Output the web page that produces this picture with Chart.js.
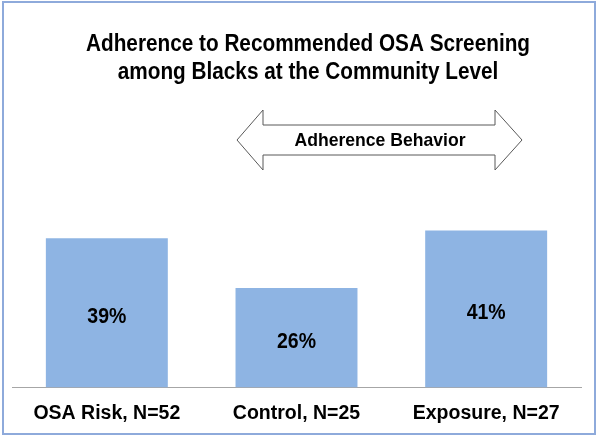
<!DOCTYPE html>
<html>
<head>
<meta charset="utf-8">
<script src="https://cdn.jsdelivr.net/npm/chart.js@4/dist/chart.umd.min.js"></script>
<style>
  html, body { margin: 0; padding: 0; background: #ffffff; }
  #wrap { width: 600px; height: 440px; position: relative; }
</style>
</head>
<body>
<div id="wrap"><canvas id="c" width="600" height="440"></canvas></div>
<script>
const categories = ['OSA Risk, N=52', 'Control, N=25', 'Exposure, N=27'];
const adherencePct = [39, 26, 41];
const titleLines = ['Adherence to Recommended OSA Screening', 'among Blacks at the Community Level'];
const arrowLabel = 'Adherence Behavior';

const FONT = '"Liberation Sans", Arial, sans-serif';

function condensedText(ctx, text, x, y, sx) {
  ctx.save();
  ctx.translate(x, y);
  ctx.scale(sx, 1);
  ctx.fillText(text, 0, 0);
  ctx.restore();
}

const decor = {
  id: 'decor',
  beforeDraw(chart) {
    const ctx = chart.ctx;
    ctx.save();
    ctx.fillStyle = '#ffffff';
    ctx.fillRect(0, 0, chart.width, chart.height);
    ctx.strokeStyle = '#8eaadb';
    ctx.lineWidth = 2;
    ctx.strokeRect(3, 2, 592, 432);
    ctx.restore();
  },
  afterDraw(chart) {
    const ctx = chart.ctx;
    ctx.save();
    ctx.fillStyle = '#000000';
    ctx.textAlign = 'center';
    ctx.textBaseline = 'middle';

    // title (slightly condensed bold face)
    ctx.font = 'bold 23px ' + FONT;
    const s1 = 444 / ctx.measureText(titleLines[0]).width;
    condensedText(ctx, titleLines[0], 308, 45, s1);
    condensedText(ctx, titleLines[1], 308, 73, s1);

    // double arrow
    const L = 237, R = 522, hl = 263, hr = 495, cy = 140, st = 125, sb = 155, ht = 110, hb = 170;
    ctx.beginPath();
    ctx.moveTo(L, cy);
    ctx.lineTo(hl, ht);
    ctx.lineTo(hl, st);
    ctx.lineTo(hr, st);
    ctx.lineTo(hr, ht);
    ctx.lineTo(R, cy);
    ctx.lineTo(hr, hb);
    ctx.lineTo(hr, sb);
    ctx.lineTo(hl, sb);
    ctx.lineTo(hl, hb);
    ctx.closePath();
    ctx.fillStyle = '#ffffff';
    ctx.fill();
    ctx.strokeStyle = '#595959';
    ctx.lineWidth = 1;
    ctx.stroke();
    ctx.fillStyle = '#000000';
    ctx.font = 'bold 19px ' + FONT;
    const s2 = 171 / ctx.measureText(arrowLabel).width;
    condensedText(ctx, arrowLabel, 380, 141, s2);

    // value labels in bars
    const meta = chart.getDatasetMeta(0);
    ctx.font = 'bold 22px ' + FONT;
    meta.data.forEach((bar, i) => {
      const v = chart.data.datasets[0].data[i];
      const t = v + '%';
      const s3 = 39 / ctx.measureText('39%').width;
      condensedText(ctx, t, bar.x, (bar.y + bar.base) / 2 + 4, s3);
    });
    ctx.restore();
  }
};

new Chart(document.getElementById('c'), {
  type: 'bar',
  data: {
    labels: categories,
    datasets: [{
      data: adherencePct,
      backgroundColor: '#8eb4e3',
      borderWidth: 0,
      categoryPercentage: 1.0,
      barPercentage: 0.643
    }]
  },
  options: {
    responsive: false,
    animation: false,
    layout: { padding: { top: 196, left: 12, right: 19, bottom: 1 } },
    plugins: {
      legend: { display: false },
      title: { display: false },
      tooltip: { enabled: false }
    },
    scales: {
      x: {
        grid: { display: false, drawTicks: false },
        border: { display: true, color: '#a6a6a6', width: 1 },
        ticks: {
          color: '#000000',
          padding: 14,
          font: { family: FONT, size: 19.5, weight: 'bold' }
        }
      },
      y: {
        display: false,
        min: 0,
        max: 50
      }
    }
  },
  plugins: [decor]
});
</script>
</body>
</html>
